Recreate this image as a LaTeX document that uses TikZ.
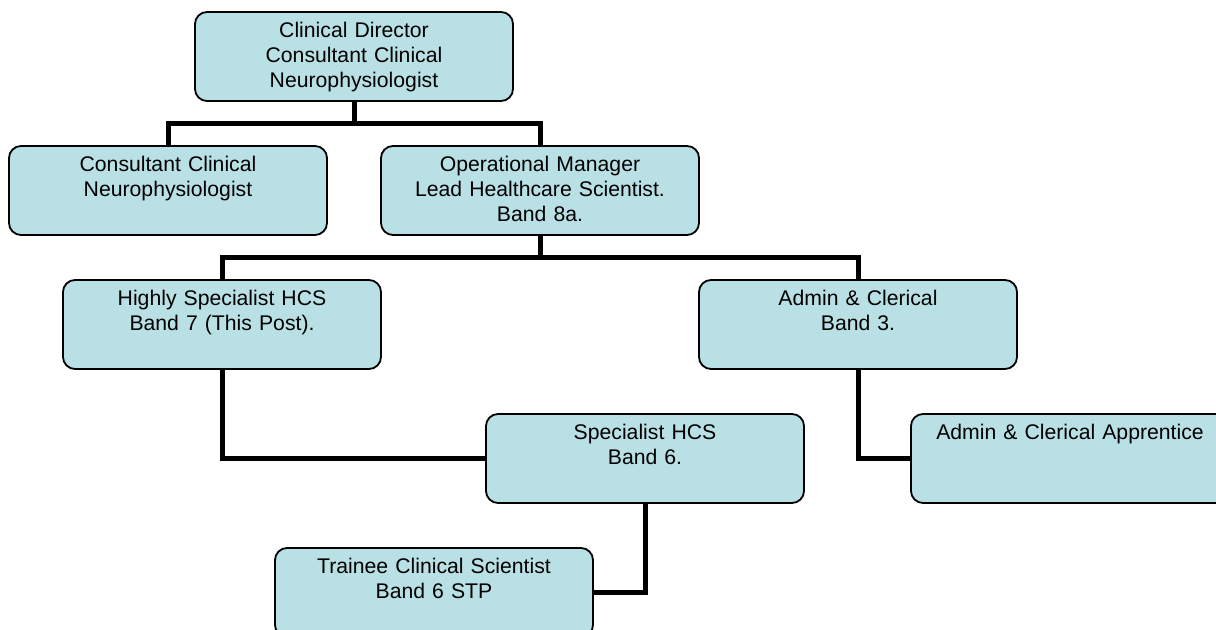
\documentclass[tikz,border=0pt]{standalone}
\usepackage{fontspec}
\setmainfont{Liberation Sans}
\usetikzlibrary{positioning}
\definecolor{postfill}{RGB}{185,224,228}
\tikzset{
  post/.style={
    rectangle,
    rounded corners=6pt,
    draw=black,
    line width=0.9pt,
    fill=postfill,
    minimum width=159pt,
    minimum height=44.5pt,
    text width=159pt,
    inner sep=0pt,
    outer sep=0pt,
    text height=12.8pt,
    text depth=31.7pt,
    align=center,
    font=\fontsize{10.6pt}{12.5pt}\selectfont,
  },
  post link/.style={line width=2.5pt},
}
\begin{document}
\begin{tikzpicture}
  \useasboundingbox (0,0) rectangle (608pt,-315pt);
  \clip (0,0) rectangle (608pt,-315pt);

  \node[post] (cd) at (177pt,-28.25pt) {Clinical Director\\Consultant Clinical\\Neurophysiologist};
  \node[post,below=22.5pt of cd,xshift=-93pt] (ccn) {Consultant Clinical\\Neurophysiologist};
  \node[post,below=22.5pt of cd,xshift=93pt] (om) {Operational Manager\\Lead Healthcare Scientist.\\Band 8a.};
  \node[post,below=22.5pt of om,xshift=-159pt] (hs) {Highly Specialist HCS\\Band 7 (This Post).};
  \node[post,below=22.5pt of om,xshift=159pt] (ac) {Admin \& Clerical\\Band 3.};
  \node[post,below=22.5pt of hs,xshift=211.5pt] (sp) {Specialist HCS\\Band 6.};
  \node[post,below=22.5pt of ac,xshift=106pt] (app) {Admin \& Clerical Apprentice};
  \node[post,below=22.5pt of sp,xshift=-105.5pt] (tcs) {Trainee Clinical Scientist\\Band 6 STP};

  \draw[post link] (cd.south) -- ++(0,-11.25pt) -| (ccn.north);
  \draw[post link] (cd.south) -- ++(0,-11.25pt) -| (om.north);
  \draw[post link] (om.south) -- ++(0,-11.25pt) -| (hs.north);
  \draw[post link] (om.south) -- ++(0,-11.25pt) -| (ac.north);
  \draw[post link] (hs.south) |- (sp.west);
  \draw[post link] (ac.south) |- (app.west);
  \draw[post link] (sp.south) |- (tcs.east);
\end{tikzpicture}
\end{document}
